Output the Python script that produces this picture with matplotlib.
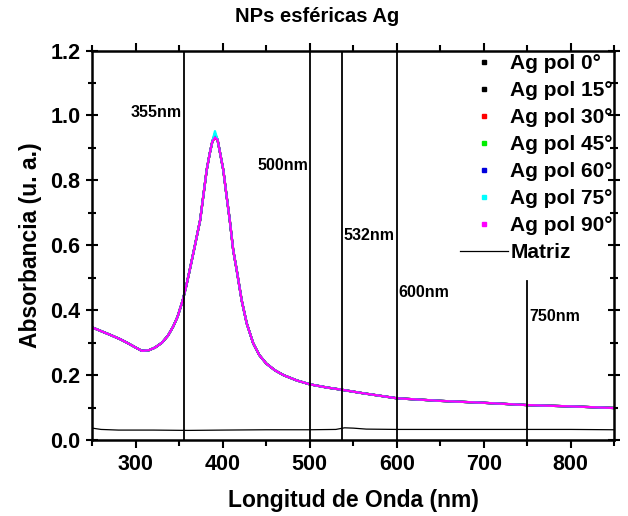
import matplotlib
matplotlib.use('Agg')
import matplotlib.pyplot as plt
from matplotlib.lines import Line2D
from matplotlib.ticker import MultipleLocator

plt.rcParams['font.family'] = ['Liberation Sans', 'DejaVu Sans']
plt.rcParams['font.weight'] = 'bold'

# wavelength (nm) and base absorbance of the Ag spectra
wl = [250, 260, 270, 282, 290, 300, 307, 315, 322, 330, 337, 343, 348, 354, 358,
      362, 368, 374, 378, 381.5, 385, 388, 391, 394, 397, 400.6, 404, 408, 412,
      416, 421.7, 427.5, 435, 442, 450, 460, 470, 485, 500, 520, 535, 560, 600,
      650, 700, 750, 800, 850]
absorb = [0.347, 0.336, 0.325, 0.311, 0.300, 0.285, 0.275, 0.277, 0.285, 0.300,
          0.322, 0.350, 0.380, 0.431, 0.475, 0.524, 0.600, 0.678, 0.760, 0.832,
          0.883, 0.920, 0.940, 0.925, 0.883, 0.832, 0.760, 0.678, 0.585, 0.524,
          0.431, 0.360, 0.298, 0.262, 0.236, 0.215, 0.200, 0.184, 0.172, 0.162,
          0.156, 0.145, 0.129, 0.121, 0.115, 0.108, 0.104, 0.099]
peak_idx = 22

series = ['Ag pol 0°', 'Ag pol 15°', 'Ag pol 30°', 'Ag pol 45°',
          'Ag pol 60°', 'Ag pol 75°', 'Ag pol 90°']
colors = ['black', 'black', 'red', '#00ee00', '#0000dd', 'cyan', 'magenta']
peaks = [0.940, 0.935, 0.930, 0.945, 0.942, 0.952, 0.932]

# matriz (substrate) curve
wl_m = [250, 260, 280, 320, 360, 400, 450, 500, 530, 540, 550, 565, 600, 700, 800, 850]
abs_m = [0.037, 0.033, 0.031, 0.031, 0.030, 0.031, 0.032, 0.032, 0.033, 0.038,
         0.037, 0.034, 0.033, 0.033, 0.033, 0.032]

# marked wavelengths: line position, label, label x, label y, label align, line top
marks_x = [355, 500, 537, 600, 750]
marks_lab = ['355nm', '500nm', '532nm', '600nm', '750nm']
marks_tx = [353, 498, 539, 602, 752]
marks_ty = [1.01, 0.845, 0.63, 0.455, 0.38]
marks_ha = ['right', 'right', 'left', 'left', 'left']
marks_top = [1.2, 1.2, 1.2, 1.2, 0.49]

fig = plt.figure(figsize=(6.28, 5.16), dpi=100)
ax = fig.add_axes([0.147, 0.147, 0.831, 0.755])

for lab, c, p in zip(series, colors, peaks):
    y = list(absorb)
    y[peak_idx] = p
    ax.plot(wl, y, color=c, lw=1.6)

ax.plot(wl_m, abs_m, color='black', lw=0.9)

for x, lab, tx, ty, ha, top in zip(marks_x, marks_lab, marks_tx, marks_ty, marks_ha, marks_top):
    ax.plot([x, x], [0, top], color='black', lw=1.3)
    ax.text(tx, ty, lab, ha=ha, va='center', fontsize=11.5, fontweight='bold')

ax.set_xlim(250, 850)
ax.set_ylim(0, 1.2)
ax.xaxis.set_major_locator(MultipleLocator(100))
ax.xaxis.set_minor_locator(MultipleLocator(50))
ax.yaxis.set_major_locator(MultipleLocator(0.2))
ax.yaxis.set_minor_locator(MultipleLocator(0.1))
ax.yaxis.set_major_formatter(plt.FormatStrFormatter('%.1f'))

for s in ax.spines.values():
    s.set_linewidth(1.8)
ax.tick_params(which='both', direction='out', width=1.5, labelsize=15.5,
               top=True, right=True, pad=4)
ax.tick_params(which='major', length=6)
ax.tick_params(which='minor', length=4)
ax.tick_params(axis='y', which='both', right=True, direction='inout')
ax.tick_params(axis='y', which='major', length=9)
ax.tick_params(axis='y', which='minor', length=6)
for lbl in ax.get_xticklabels() + ax.get_yticklabels():
    lbl.set_fontweight('bold')

ax.set_xlabel('Longitud de Onda (nm)', fontsize=16.5, fontweight='bold', labelpad=10)
ax.set_ylabel('Absorbancia (u. a.)', fontsize=16.5, fontweight='bold', labelpad=6)
fig.text(0.505, 0.968, 'NPs esféricas Ag', ha='center', va='center',
         fontsize=14.5, fontweight='bold')

handles = [Line2D([], [], color=c, marker='s', ms=3, ls='none') for c in colors]
handles.append(Line2D([], [], color='black', lw=0.9))
leg = ax.legend(handles, series + ['Matriz'], loc='upper left',
                bbox_to_anchor=(0.705, 0.99), frameon=False, fontsize=15,
                handlelength=2.3, handletextpad=0.1, labelspacing=0.38,
                borderpad=0, borderaxespad=0)

fig.savefig('out.png', dpi=100)
